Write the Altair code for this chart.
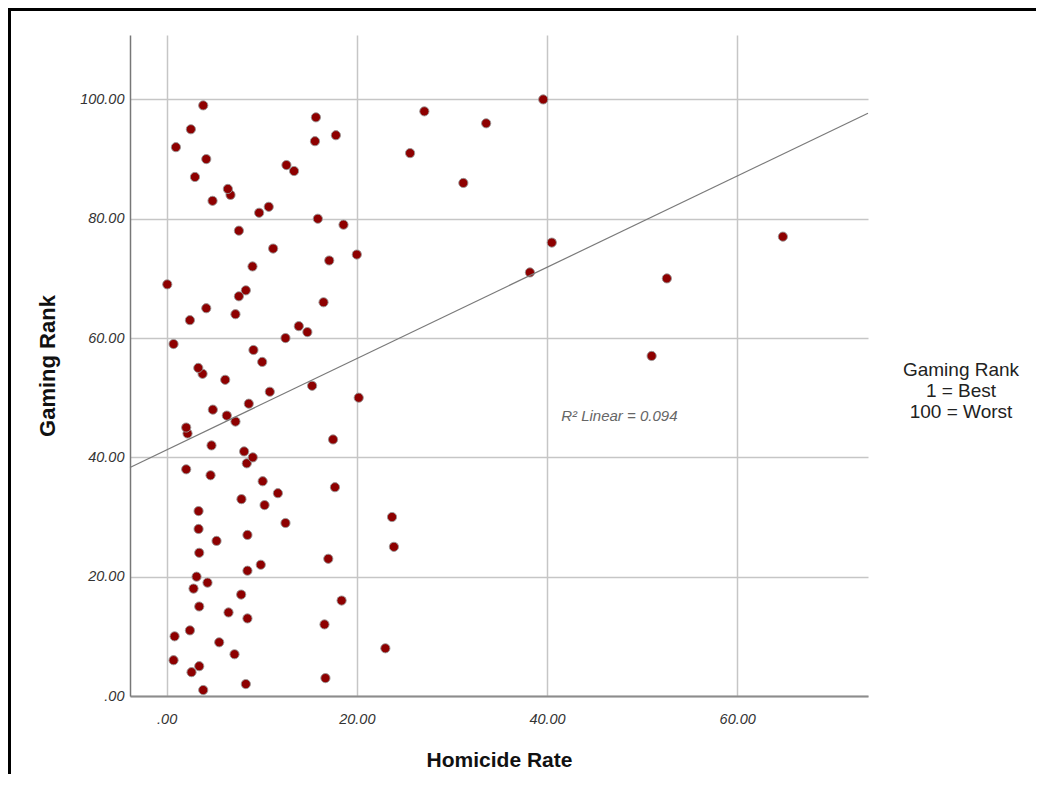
import altair as alt
import pandas as pd

# ---- data ----
gaming_rank = [
    1, 2, 3, 4, 5, 6, 7, 8, 9, 10,
    11, 12, 13, 14, 15, 16, 17, 18, 19, 20,
    21, 22, 23, 24, 25, 26, 27, 28, 29, 30,
    31, 32, 33, 34, 35, 36, 37, 38, 39, 40,
    41, 42, 43, 44, 45, 46, 47, 48, 49, 50,
    51, 52, 53, 54, 55, 56, 57, 58, 59, 60,
    61, 62, 63, 64, 65, 66, 67, 68, 69, 70,
    71, 72, 73, 74, 75, 76, 77, 78, 79, 80,
    81, 82, 83, 84, 85, 86, 87, 88, 89, 90,
    91, 92, 93, 94, 95, 96, 97, 98, 99, 100,
]
homicide_rate = [
    3.85, 8.33, 16.7, 2.62, 3.43, 0.73, 7.14, 23.0, 5.53, 0.84,
    2.45, 16.6, 8.5, 6.51, 3.43, 18.4, 7.84, 2.83, 4.3, 3.15,
    8.5, 9.9, 17.0, 3.43, 23.9, 5.25, 8.5, 3.36, 12.5, 23.7,
    3.36, 10.3, 7.87, 11.7, 17.7, 10.1, 4.62, 2.06, 8.43, 9.06,
    8.15, 4.72, 17.5, 2.2, 2.06, 7.24, 6.33, 4.86, 8.64, 20.2,
    10.85, 15.3, 6.16, 3.78, 3.33, 10.05, 51.0, 9.13, 0.73, 12.5,
    14.8, 13.9, 2.45, 7.24, 4.17, 16.5, 7.6, 8.33, 0.07, 52.6,
    38.2, 9.03, 17.1, 20.0, 11.2, 40.5, 64.8, 7.6, 18.6, 15.9,
    9.73, 10.74, 4.83, 6.72, 6.44, 31.2, 2.98, 13.4, 12.6, 4.17,
    25.6, 0.98, 15.6, 17.8, 2.55, 33.6, 15.7, 27.1, 3.85, 39.6,
]
x_ticks = [0, 20, 40, 60]
y_ticks = [0, 20, 40, 60, 80, 100]
x_domain = [-3.85, 73.75]
y_domain = [0, 110.8]
r2_text = ["R\u00b2 Linear = 0.094"]
r2_pos_x = [47.6]
r2_pos_y = [46.9]
note_text = "Gaming Rank\n1 = Best\n100 = Worst"

df = pd.DataFrame({"Homicide Rate": homicide_rate, "Gaming Rank": gaming_rank})
r2_df = pd.DataFrame({"x": r2_pos_x, "y": r2_pos_y, "t": r2_text})
one = pd.DataFrame({"k": [0]})

sans = "'Liberation Sans', Arial, sans-serif"
lbl = "datum.value == 0 ? '.00' : format(datum.value, '.2f')"

xs = alt.Scale(domain=x_domain, nice=False, zero=False)
ys = alt.Scale(domain=y_domain, nice=False, zero=False)

x_axis = alt.Axis(
    values=x_ticks, labelExpr=lbl, grid=True, ticks=False,
    gridColor="#c6c6c6", gridWidth=1.5,
    domainColor="#8c8c8c", domainWidth=2,
    labelFont=sans, labelFontStyle="italic", labelFontSize=14.5,
    labelColor="#333333", labelPadding=16,
    title="Homicide Rate", titleFont=sans, titleFontWeight="bold",
    titleFontSize=21, titleColor="#111111", titleY=64, titleBaseline="middle",
)
y_axis = alt.Axis(
    values=y_ticks, labelExpr=lbl, grid=True, ticks=False,
    gridColor="#c6c6c6", gridWidth=1.5,
    domainColor="#777777", domainWidth=1.5,
    labelFont=sans, labelFontStyle="italic", labelFontSize=14.5,
    labelColor="#333333", labelPadding=6,
    title="Gaming Rank", titleFont=sans, titleFontWeight="bold",
    titleFontSize=22, titleColor="#111111", titleX=-83, titleY=330.5,
    titleBaseline="middle", titleAngle=270,
)

base = alt.Chart(df)

points = base.mark_point(
    filled=True, shape="circle", size=85, fill="#8e0000", opacity=1,
    stroke="#999999", strokeWidth=0.9,
).encode(
    x=alt.X("Homicide Rate:Q", scale=xs, axis=x_axis),
    y=alt.Y("Gaming Rank:Q", scale=ys, axis=y_axis),
)

fit = base.transform_regression(
    "Homicide Rate", "Gaming Rank", extent=x_domain
).mark_line(color="#7a7a7a", strokeWidth=1.2).encode(
    x=alt.X("Homicide Rate:Q", scale=xs),
    y=alt.Y("Gaming Rank:Q", scale=ys),
)

r2 = alt.Chart(r2_df).mark_text(
    font=sans, fontStyle="italic", fontSize=15, color="#666666",
    align="center", baseline="middle",
).encode(
    x=alt.X("x:Q", scale=xs), y=alt.Y("y:Q", scale=ys), text="t:N"
)

note = alt.Chart(one).mark_text(
    text=note_text, lineBreak="\n", lineHeight=21, font=sans, fontSize=19,
    color="#222222", align="center", baseline="middle",
).encode(x=alt.value(831), y=alt.value(335))

frame_top = alt.Chart(one).mark_rule(color="black", strokeWidth=3).encode(
    x=alt.value(-122), x2=alt.value(906), y=alt.value(-25.5)
)
frame_left = alt.Chart(one).mark_rule(color="black", strokeWidth=3).encode(
    x=alt.value(-120.5), y=alt.value(-27), y2=alt.value(739)
)

chart = alt.layer(points, fit, r2, note, frame_top, frame_left).properties(
    width=738, height=661,
    padding={"left": 122, "top": 27, "right": 168, "bottom": 78},
    autosize=alt.AutoSizeParams(type="none"),
    background="white",
).configure_view(stroke=None)

chart.save("out.html", embed_options={"renderer": "svg", "actions": False})
